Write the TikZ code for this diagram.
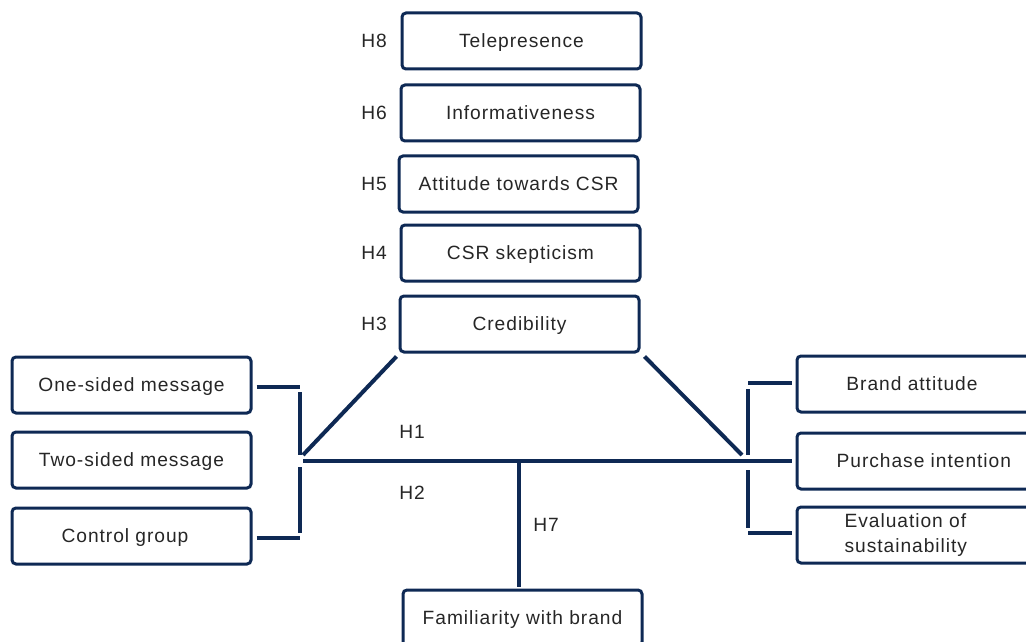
\documentclass[tikz,border=0pt]{standalone}
\usepackage{fontspec}
\setmainfont{Liberation Sans}[LetterSpace=5]
\definecolor{navy}{RGB}{14,41,84}
\begin{document}
\begin{tikzpicture}[x=0.75pt,y=-0.75pt,
  box/.style={draw=navy,line width=2.25pt,rounded corners=3pt,minimum width=179.25pt,minimum height=42pt,inner sep=2pt,text height=12pt,text depth=1.7pt,font=\fontsize{14.4}{17}\selectfont,text=black!85},
  conn/.style={draw=navy,line width=3pt},
  lab/.style={font=\fontsize{14.4}{17}\selectfont,text=black!85,text height=12pt,text depth=1.7pt}]
\useasboundingbox (0,0) rectangle (1026,642);
\clip (0,0) rectangle (1026,642);
% boxes
\node[box] (tele) at (521.5,41) {Telepresence};
\node[box] (info) at (520.5,113) {Informativeness};
\node[box] (att) at (518.5,184) {Attitude towards CSR};
\node[box] (skep) at (520.5,253) {CSR skepticism};
\node[box] (cred) at (519.5,324) {Credibility};
\node[box] (one) at (131.5,385) {One-sided message};
\node[box] (two) at (131.5,460) {Two-sided message};
\node[box] (ctrl) at (131.5,536) {\hspace*{-9.75pt}Control group};
\node[box] (brand) at (916.5,384) {\hspace*{-6.75pt}Brand attitude};
\node[box] (purch) at (916.5,461) {\hspace*{11pt}Purchase intention};
\node[box,align=left,text height=,text depth=,font=\fontsize{14.4}{18.75}\selectfont] (eval) at (916.5,535) {\hspace*{-16pt}Evaluation of\\\hspace*{-16pt}sustainability};
\node[box] (fam) at (522.5,618) {Familiarity with brand};
% labels
\node[lab] (h8) at (374,41) {H8};
\node[lab] (h6) at (374,113) {H6};
\node[lab] (h5) at (374,184) {H5};
\node[lab] (h4) at (374,253) {H4};
\node[lab] (h3) at (374,324) {H3};
\node[lab] (h1) at (412,432) {H1};
\node[lab] (h2) at (412,493) {H2};
\node[lab] (h7) at (546,525) {H7};
% coordinates
\coordinate (LT) at (300,387);
\coordinate (LTa) at (300,392);
\coordinate (LTb) at (300,455);
\coordinate (LBa) at (300,467);
\coordinate (LBb) at (300,533);
\coordinate (LB) at (300,538);
\coordinate (LD) at (303,455);
\coordinate (LM) at (303,461);
\coordinate (RT) at (748,383);
\coordinate (RTa) at (748,389);
\coordinate (RTb) at (748,455);
\coordinate (RBa) at (748,470);
\coordinate (RBb) at (748,528);
\coordinate (RB) at (748,533);
\coordinate (RD) at (742,455);
\coordinate (H7t) at (519,462);
\coordinate (H7b) at (519,587);
% connectors
\draw[conn] ([xshift=3pt]one.east |- LT) -- (LT);
\draw[conn] (LTa) -- (LTb);
\draw[conn] (LBa) -- (LBb);
\draw[conn] ([xshift=3pt]ctrl.east |- LB) -- (LB);
\draw[conn] (LD) -- ([shift={(-2,3)}]cred.south west);
\draw[conn] (RD) -- ([shift={(4,3)}]cred.south east);
\draw[conn] (LM) -- ([xshift=-3pt]purch.west);
\draw[conn] (RT) -- ([xshift=-3pt]brand.west |- RT);
\draw[conn] (RTa) -- (RTb);
\draw[conn] (RBa) -- (RBb);
\draw[conn] (RB) -- ([xshift=-3pt]eval.west |- RB);
\draw[conn] (H7t) -- (H7b);
\end{tikzpicture}
\end{document}
